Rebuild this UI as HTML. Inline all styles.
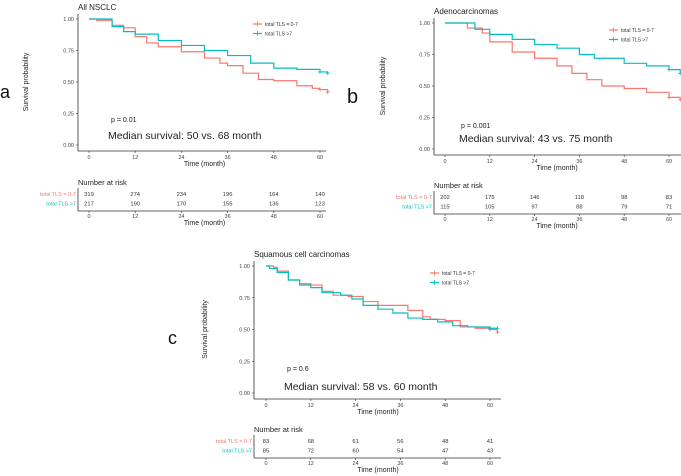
<!DOCTYPE html>
<html><head><meta charset="utf-8"><style>
html,body{margin:0;padding:0;background:#fff;width:681px;height:476px;overflow:hidden}
svg{display:block;font-family:"Liberation Sans",sans-serif}
</style></head><body>
<svg id="fig" width="681" height="476" viewBox="0 0 681 476"></svg>
<script>
const monthTicks=[0,12,24,36,48,60];
const survTicks=[0,0.25,0.5,0.75,1];
const survTickLabels=["0.00","0.25","0.50","0.75","1.00"];
// Panel a
const aRedT=[0,2,6,9,12,15,18,24,30,34,36,40,44,48,54,58,60,62];
const aRedS=[1,0.99,0.95,0.93,0.86,0.81,0.78,0.74,0.69,0.65,0.63,0.57,0.52,0.51,0.47,0.45,0.44,0.42];
const aTealT=[0,6,9,12,18,24,30,36,42,48,54,60,62];
const aTealS=[1,0.94,0.90,0.88,0.83,0.79,0.75,0.71,0.65,0.61,0.60,0.58,0.57];
const aRiskRed=[319,274,234,196,164,140];
const aRiskTeal=[217,190,170,155,136,123];
// Panel b
const bRedT=[0,6,10,12,18,24,30,34,38,42,48,54,60,63];
const bRedS=[1,0.96,0.92,0.85,0.77,0.72,0.66,0.60,0.55,0.50,0.48,0.45,0.41,0.39];
const bTealT=[0,5,8,12,18,24,30,36,40,48,54,60,63];
const bTealS=[1,1,0.95,0.91,0.87,0.83,0.80,0.75,0.72,0.68,0.66,0.63,0.60];
const bRiskRed=[202,175,146,118,98,83];
const bRiskTeal=[115,105,97,88,79,71];
// Panel c
const cRedT=[0,2,3,6,9,12,15,18,22,26,30,35,38,42,44,48,52,56,60,62];
const cRedS=[1,0.99,0.96,0.89,0.86,0.85,0.80,0.77,0.76,0.72,0.69,0.69,0.65,0.60,0.58,0.57,0.52,0.51,0.50,0.48];
const cTealT=[0,1,3,6,9,12,15,20,23,26,30,34,38,42,46,50,54,60,62];
const cTealS=[1,0.98,0.95,0.89,0.85,0.83,0.79,0.77,0.74,0.69,0.66,0.63,0.59,0.58,0.56,0.53,0.52,0.51,0.51];
const cRiskRed=[83,68,61,56,48,41];
const cRiskTeal=[85,72,60,54,47,43];

const RED="#F8766D",TEAL="#00BFC4",NS="http://www.w3.org/2000/svg";
const svg=document.getElementById('fig');
function el(tag,attrs,parent,text){const e=document.createElementNS(NS,tag);for(const k in attrs)e.setAttribute(k,attrs[k]);if(text!==undefined)e.textContent=text;(parent||svg).appendChild(e);return e;}

function panel(p,redT,redS,tealT,tealS,riskR,riskT){
  const g=el('g',{});
  
  
  const sx=m=>p.x0+(m/60)*(p.x60-p.x0);
  const sy=v=>p.y0-v*(p.y0-p.y1);
  const t=el('text',{x:p.ax,y:p.y1-9,'font-size':8,fill:'#222'},g,p.title);
  
  const lt=el('text',{x:p.lx,y:p.ly,'font-size':p.lf,fill:'#111'},g,p.id);
  
  el('line',{x1:p.ax,y1:p.y1-5,x2:p.ax,y2:p.y0+6,stroke:'#333','stroke-width':0.8},g);
  el('line',{x1:p.ax,y1:p.y0+6,x2:p.xr,y2:p.y0+6,stroke:'#333','stroke-width':0.8},g);
  survTicks.forEach((v,i)=>{
    el('line',{x1:p.ax-2,y1:sy(v),x2:p.ax,y2:sy(v),stroke:'#333','stroke-width':0.6},g);
    const tl=el('text',{x:p.ax-4,y:sy(v)+2,'font-size':5.5,fill:'#444','text-anchor':'end'},g,survTickLabels[i]);
    
  });
  monthTicks.forEach(m=>{
    el('line',{x1:sx(m),y1:p.y0+6,x2:sx(m),y2:p.y0+8,stroke:'#333','stroke-width':0.6},g);
    const tl=el('text',{x:sx(m),y:p.y0+14,'font-size':5.5,fill:'#444','text-anchor':'middle'},g,m);
    
  });
  const xt=el('text',{x:(p.x0+p.x60)/2,y:p.y0+21,'font-size':7,fill:'#222','text-anchor':'middle'},g,'Time (month)');
  
  const yt=el('text',{x:p.yx,y:(p.y0+p.y1)/2,'font-size':7,fill:'#222','text-anchor':'middle',transform:`rotate(-90 ${p.yx} ${(p.y0+p.y1)/2})`},g,'Survival probability');
  
  function curve(T,S,col,name){
    let d=`M${sx(T[0])},${sy(S[0])}`;
    for(let i=1;i<T.length;i++){d+=`H${sx(T[i])}V${sy(S[i])}`;}
    const path=el('path',{d:d,fill:'none',stroke:col,'stroke-width':1.2},g);
    
    const n=T.length-1;
    [n-1,n].forEach(i=>{const x=sx(T[i]),y=sy(S[i]);
      el('path',{d:`M${x-2},${y}H${x+2}M${x},${y-2}V${y+2}`,fill:'none',stroke:col,'stroke-width':0.8},g);});
  }
  curve(redT,redS,RED,'curve-tls-0-7');
  curve(tealT,tealS,TEAL,'curve-tls-gt-7');
  [[RED,'total TLS = 0-7'],[TEAL,'total TLS >7']].forEach((c,i)=>{
    const y=p.legy+i*9.5;
    const le=el('g',{},g);
    
    el('line',{x1:p.legx,y1:y,x2:p.legx+9,y2:y,stroke:c[0],'stroke-width':1.2},le);
    el('line',{x1:p.legx+4.5,y1:y-2.5,x2:p.legx+4.5,y2:y+2.5,stroke:c[0],'stroke-width':0.8},le);
    el('text',{x:p.legx+12,y:y+2,'font-size':5,fill:'#333'},le,c[1]);
  });
  const pv=el('text',{x:p.px,y:p.py,'font-size':7,fill:'#222'},g,p.pval);
  
  const md=el('text',{x:p.mx,y:p.my,'font-size':10.5,fill:'#222'},g,p.median);
  
  const r=p.r;
  const nr=el('text',{x:p.ax,y:r-9,'font-size':7.5,fill:'#222'},g,'Number at risk');
  
  el('line',{x1:p.ax,y1:r-6,x2:p.ax,y2:r+17,stroke:'#333','stroke-width':0.8},g);
  el('line',{x1:p.ax,y1:r+17,x2:p.xr,y2:r+17,stroke:'#333','stroke-width':0.8},g);
  [[riskR,RED,'total TLS = 0-7',0],[riskT,TEAL,'total TLS >7',9.5]].forEach(row=>{
    const rl=el('text',{x:p.ax-2,y:r+2+row[3],'font-size':5.5,fill:row[1],'text-anchor':'end'},g,row[2]);
    
    row[0].forEach((v,i)=>{
      const rv=el('text',{x:sx(monthTicks[i]),y:r+2+row[3],'font-size':5.8,fill:'#333','text-anchor':'middle'},g,v);
      
    });
  });
  monthTicks.forEach(m=>{
    el('line',{x1:sx(m),y1:r+17,x2:sx(m),y2:r+19,stroke:'#333','stroke-width':0.6},g);
    el('text',{x:sx(m),y:r+24,'font-size':5.5,fill:'#444','text-anchor':'middle'},g,m);
  });
  el('text',{x:(p.x0+p.x60)/2,y:r+31,'font-size':7,fill:'#222','text-anchor':'middle'},g,'Time (month)');
}
panel({id:'a',title:'All NSCLC',ax:78,x0:89,x60:320,xr:326,y1:19,y0:145,lx:0,ly:98,lf:18,yx:28,
  legx:253,legy:24,px:111,py:122,pval:'p = 0.01',mx:108,my:139,median:'Median survival: 50 vs. 68 month',r:194},
  aRedT,aRedS,aTealT,aTealS,aRiskRed,aRiskTeal);
panel({id:'b',title:'Adenocarcinomas',ax:434,x0:445,x60:669,xr:681,y1:23,y0:149,lx:347,ly:103,lf:20,yx:385,
  legx:609,legy:30,px:461,py:128,pval:'p = 0.001',mx:459,my:142,median:'Median survival: 43 vs. 75 month',r:197},
  bRedT,bRedS,bTealT,bTealS,bRiskRed,bRiskTeal);
panel({id:'c',title:'Squamous cell carcinomas',ax:254,x0:266,x60:490,xr:501,y1:266,y0:393,lx:168,ly:344,lf:18,yx:207,
  legx:430,legy:273,px:287,py:371,pval:'p = 0.6',mx:284,my:390,median:'Median survival: 58 vs. 60 month',r:441},
  cRedT,cRedS,cTealT,cTealS,cRiskRed,cRiskTeal);
</script>
</body></html>
